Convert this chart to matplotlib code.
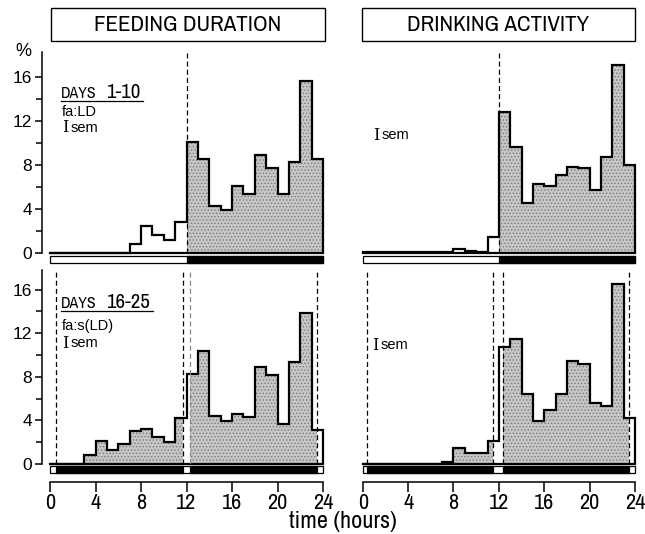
import numpy as np
import matplotlib
matplotlib.use("Agg")
import matplotlib.pyplot as plt
from matplotlib.patches import Rectangle

plt.rcParams['font.family'] = ['Liberation Sans', 'DejaVu Sans']
plt.rcParams['hatch.linewidth'] = 0.6
NARROW = ['Archivo Narrow', 'Liberation Sans', 'DejaVu Sans']
PT = 0.72  # points per pixel at dpi 100

###################################
# data (% per hour)
hours = np.arange(25)
feeding_ld = [0, 0, 0, 0, 0, 0, 0, 0.8, 2.45, 1.6, 1.2, 2.85,
              10.1, 8.5, 4.25, 3.9, 6.05, 5.4, 8.9, 7.7, 5.4, 8.25, 15.6, 8.55]
drinking_ld = [0.05, 0.05, 0.05, 0.05, 0.05, 0.05, 0.05, 0.05, 0.4, 0.2, 0.05, 1.45,
               12.8, 9.6, 4.5, 6.3, 6.1, 7.1, 7.8, 7.7, 5.7, 8.7, 17.1, 8.0]
feeding_sld = [0, 0, 0, 0.8, 2.1, 1.3, 1.8, 3.05, 3.25, 2.5, 2.05, 4.25,
               8.3, 10.4, 4.4, 3.95, 4.6, 4.35, 8.9, 8.15, 3.65, 9.4, 13.9, 3.1]
drinking_sld = [0, 0, 0, 0, 0, 0, 0, 0.2, 1.5, 1.0, 1.0, 2.15,
                10.75, 11.45, 6.4, 3.95, 4.95, 6.4, 9.45, 9.15, 5.6, 5.35, 16.5, 4.2]

# dark phases of the light/dark schedule
dark_ld = [(12, 24)]
dark_sld_feed = [(0.55, 11.65), (12.35, 23.5)]
dark_sld_drink = [(0.35, 11.5), (12.4, 23.5)]

x_ticks = [0, 4, 8, 12, 16, 20, 24]
y_ticks = [0, 4, 8, 12, 16]
y_minor = [2, 6, 10, 14]

W, H = 645, 534
fig = plt.figure(figsize=(W / 100, H / 100), dpi=100)


def box(x0, y0, x1, y1):
    return [x0 / W, 1 - y1 / H, (x1 - x0) / W, (y1 - y0) / H]


def ftext(px, py, s, **kw):
    fig.text(px / W, 1 - py / H, s, **kw)


def panel(ax, values, dark, top, strip, dashes, left_axis, bottom_axis):
    ax.set_xlim(0, 24)
    ax.set_ylim(0, top)
    # stippled fill during the dark phase
    for a, b in dark:
        s = ax.stairs(values, hours, fill=True, facecolor='#c6c6c6', edgecolor='#7a7a7a',
                      hatch='.....', linewidth=0, zorder=1)
        s.set_clip_path(Rectangle((a, 0), b - a, top, transform=ax.transData))
    ax.stairs(values, hours, color='black', linewidth=1.6, baseline=0,
              clip_on=False, zorder=3)
    ax.plot([hours[0], hours[-1]], [0, 0], color='black', linewidth=1.6,
            clip_on=False, zorder=3)
    # light/dark strip under the histogram
    y0, h = strip
    ax.add_patch(Rectangle((0, y0), 24, h, facecolor='white', edgecolor='black',
                           linewidth=0.9, clip_on=False, zorder=3))
    for a, b in dark:
        ax.add_patch(Rectangle((a, y0), b - a, h, facecolor='black', edgecolor='black',
                               linewidth=0.9, clip_on=False, zorder=3))
    for x, c in dashes:
        ax.axvline(x, color=c, linestyle=(0, (4, 2.5)), linewidth=0.9, zorder=4)

    for side in ['top', 'right']:
        ax.spines[side].set_visible(False)
    if left_axis:
        ax.spines['left'].set_position(('outward', 8 * PT))
        ax.spines['left'].set_bounds(0, top)
        ax.spines['left'].set_linewidth(1.1)
        ax.set_yticks(y_ticks)
        ax.set_yticks(y_minor, minor=True)
        ax.tick_params(axis='y', which='major', length=7 * PT, width=1.1, labelsize=12.5, pad=2)
        ax.tick_params(axis='y', which='minor', length=6 * PT, width=1.1)
    else:
        ax.spines['left'].set_visible(False)
        ax.set_yticks([])
    if bottom_axis:
        ax.spines['bottom'].set_position(('outward', 18 * PT))
        ax.spines['bottom'].set_bounds(0, 24)
        ax.spines['bottom'].set_linewidth(1.1)
        ax.set_xticks(x_ticks)
        ax.tick_params(axis='x', length=10 * PT, width=1.1, pad=1)
        for lab in ax.get_xticklabels():
            lab.set_fontfamily(NARROW)
            lab.set_fontsize(16)
    else:
        ax.spines['bottom'].set_visible(False)
        ax.set_xticks([])


ax_tl = fig.add_axes(box(50, 51.7, 323, 253))
ax_tr = fig.add_axes(box(362.7, 51.7, 635, 253))
ax_bl = fig.add_axes(box(50, 270, 323, 464))
ax_br = fig.add_axes(box(362.7, 270, 635, 464))

panel(ax_tl, feeding_ld, dark_ld, 18.3, (-0.92, 0.62), [(12, 'black')], True, False)
panel(ax_tr, drinking_ld, dark_ld, 18.3, (-0.92, 0.62), [(12, 'black')], False, False)
panel(ax_bl, feeding_sld, dark_sld_feed, 17.8, (-0.84, 0.64),
      [(0.55, 'black'), (11.65, 'black'), (12.35, '#888888'), (23.5, 'black')], True, True)
panel(ax_br, drinking_sld, dark_sld_drink, 17.8, (-0.84, 0.64),
      [(0.35, 'black'), (11.5, 'black'), (12.4, 'black'), (23.5, 'black')], False, True)

# panel titles in boxes
for x0, x1, title in [(50.7, 325, 'FEEDING DURATION'), (361.7, 635, 'DRINKING ACTIVITY')]:
    fig.add_artist(Rectangle((x0 / W, 1 - 41 / H), (x1 - x0) / W, 33 / H,
                             transform=fig.transFigure, fill=False,
                             edgecolor='black', linewidth=1.0))
    ftext((x0 + x1) / 2, 25, title, ha='center', va='center',
          fontsize=16.5, family=NARROW)

ftext(23, 52, '%', ha='center', va='center', fontsize=13)
ftext(343, 522, 'time (hours)', ha='center', va='center', fontsize=17.5, family=NARROW)

# annotations
for py_days, n1, x_end in [(98, '1-10', 143), (308, '16-25', 153)]:
    ftext(61, py_days, 'DAYS', ha='left', va='baseline', fontsize=11.5, family=NARROW)
    ftext(106, py_days, n1, ha='left', va='baseline', fontsize=15, family=NARROW)
    fig.add_artist(plt.Line2D([61 / W, x_end / W], [1 - (py_days + 3) / H] * 2,
                              color='black', linewidth=0.9))
ftext(62, 112, 'fa:LD', ha='left', va='center', fontsize=10.5)
ftext(62, 326, 'fa:s(LD)', ha='left', va='center', fontsize=10.5)
for px, py in [(62, 128), (62, 343), (373, 135), (372, 345)]:
    ftext(px, py, 'I', ha='left', va='center', fontsize=11.5, family='DejaVu Serif')
    ftext(px + 9, py, 'sem', ha='left', va='center', fontsize=10.5)

fig.savefig('out.png', dpi=100)
